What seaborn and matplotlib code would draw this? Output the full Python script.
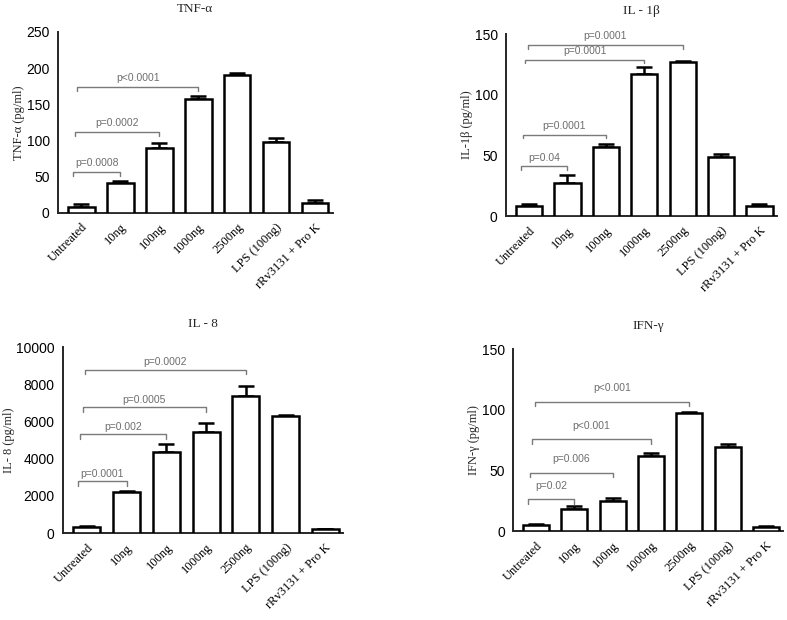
"""
plot.py — Cytokine release (TNF-α, IL-1β, IL-8, IFN-γ) after rRv3131 stimulation
"""

import numpy as np
import pandas as pd
import matplotlib
matplotlib.use("Agg")
import matplotlib.pyplot as plt
import seaborn as sns


# ─────────────────────────────────────────────────────────────────────────────
# 1. Data
# ─────────────────────────────────────────────────────────────────────────────

groups = ["Untreated", "10ng", "100ng", "1000ng", "2500ng",
          "LPS (100ng)", "rRv3131 + Pro K"]

tnf_mean = [8, 42, 90, 157, 191, 98, 14]
tnf_err  = [4, 2, 7, 5, 3, 5, 4]

il1b_mean = [8, 27, 57, 117, 127, 49, 8]
il1b_err  = [1.5, 7, 2.5, 6, 1, 2, 2]

il8_mean = [320, 2180, 4330, 5420, 7380, 6280, 220]
il8_err  = [80, 60, 480, 500, 550, 80, 10]

ifng_mean = [5, 18, 25, 61.5, 97.5, 69, 3.5]
ifng_err  = [1, 3, 2, 3, 1, 3, 1]

# brackets : (index of compared group, bracket height, label)
tnf_pvals  = [(1, 57, "p=0.0008"), (2, 112, "p=0.0002"), (3, 174, "p<0.0001")]
il1b_pvals = [(1, 41, "p=0.04"), (2, 67, "p=0.0001"),
              (3, 129, "p=0.0001"), (4, 141, "p=0.0001")]
il8_pvals  = [(1, 2770, "p=0.0001"), (2, 5300, "p=0.002"),
              (3, 6750, "p=0.0005"), (4, 8790, "p=0.0002")]
ifng_pvals = [(1, 26, "p=0.02"), (2, 48, "p=0.006"),
              (3, 75.5, "p<0.001"), (4, 106.7, "p<0.001")]


# ─────────────────────────────────────────────────────────────────────────────
# 2. Drawing helpers
# ─────────────────────────────────────────────────────────────────────────────

SERIF = "Liberation Serif"
SANS = "Liberation Sans"


def draw_panel(ax, mean, err, pvals, title, ylabel, ymax, ystep,
               drop, text_off, title_y):
    df = pd.DataFrame({"group": groups, "value": mean})
    sns.barplot(data=df, x="group", y="value", ax=ax, color="white",
                edgecolor="black", linewidth=1.8, width=0.68,
                errorbar=None, zorder=3)
    x = np.arange(len(groups))
    ax.errorbar(x, mean, yerr=[np.zeros(len(err)), err], fmt="none",
                ecolor="black", elinewidth=1.8, capsize=6, capthick=1.8,
                zorder=2)

    # significance brackets
    for k, (j, h, lab) in enumerate(pvals):
        x0 = -0.22 + 0.06 * k
        x1 = j
        ax.plot([x0, x0, x1, x1], [h - drop, h, h, h - drop],
                color="#7a7a7a", lw=1.0, clip_on=False, zorder=4)
        ax.text((x0 + x1) / 2, h + text_off, lab, ha="center", va="center",
                fontsize=7.5, color="#6e6e6e", family=SANS)

    ax.set_xlim(-0.6, 6.45)
    ax.set_ylim(0, ymax)
    ax.set_yticks(np.arange(0, ymax + 1, ystep))
    ax.set_xticks(x)
    ax.set_xticklabels(groups, rotation=45, ha="right", rotation_mode="anchor",
                       family=SERIF, fontsize=9)
    for t in ax.get_yticklabels():
        t.set_family(SANS)
        t.set_fontsize(10)
    ax.set_xlabel("")
    ax.set_ylabel(ylabel, family=SERIF, fontsize=9, labelpad=1)
    ax.set_title(title, family=SERIF, fontsize=9.5, y=title_y)

    sns.despine(ax=ax)
    for s in ("left", "bottom"):
        ax.spines[s].set_linewidth(1.4)
    ax.tick_params(axis="both", direction="out", length=4.5, width=1.4,
                   colors="black", pad=1.5)


# ─────────────────────────────────────────────────────────────────────────────
# 3. Figure
# ─────────────────────────────────────────────────────────────────────────────

sns.set_style("white")
fig = plt.figure(figsize=(7.87, 6.2), dpi=100)

ax1 = fig.add_axes([0.0737, 0.6565, 0.349, 0.2919])
ax2 = fig.add_axes([0.643, 0.6516, 0.344, 0.2935])
ax3 = fig.add_axes([0.080, 0.1403, 0.356, 0.300])
ax4 = fig.add_axes([0.652, 0.1435, 0.343, 0.2935])

draw_panel(ax1, tnf_mean, tnf_err, tnf_pvals, "TNF-α", "TNF-α (pg/ml)",
           250, 50, 6, 12, 1.065)
draw_panel(ax2, il1b_mean, il1b_err, il1b_pvals, "IL - 1β", "IL-1β (pg/ml)",
           150, 50, 3, 7, 1.065)
draw_panel(ax3, il8_mean, il8_err, il8_pvals, "IL - 8", "IL- 8 (pg/ml)",
           10000, 2000, 250, 420, 1.065)
draw_panel(ax4, ifng_mean, ifng_err, ifng_pvals, "IFN-γ", "IFN-γ (pg/ml)",
           150, 50, 3.5, 11, 1.065)

fig.savefig("out.png", dpi=100)
